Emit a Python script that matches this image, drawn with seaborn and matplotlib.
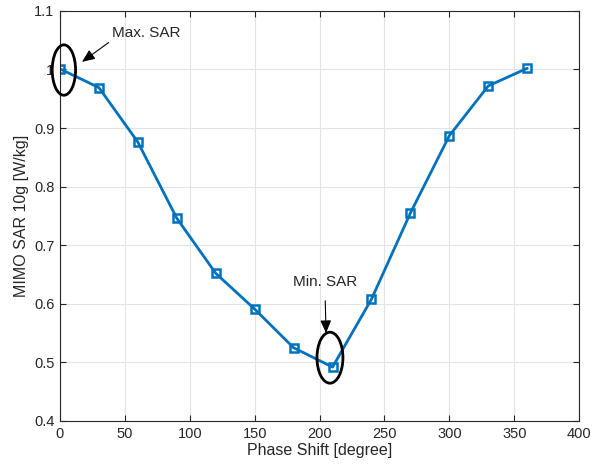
import matplotlib
matplotlib.use("Agg")
import matplotlib.pyplot as plt
from matplotlib.patches import Ellipse
import pandas as pd
import seaborn as sns

# phase shift between ports (degree) and resulting 10g MIMO SAR
phase_shift = [0, 30, 60, 90, 120, 150, 180, 210, 240, 270, 300, 330, 360]
sar_10g = [1.001, 0.969, 0.876, 0.746, 0.652, 0.591, 0.525, 0.492, 0.608,
           0.755, 0.887, 0.972, 1.002]

df = pd.DataFrame({"phase": phase_shift, "sar": sar_10g})

sns.set_theme(style="whitegrid")
plt.rcParams["font.family"] = ["Liberation Sans", "DejaVu Sans"]

fig = plt.figure(figsize=(5.94, 4.73), dpi=100)
ax = fig.add_axes([0.101, 0.110, 0.874, 0.867])

sns.lineplot(data=df, x="phase", y="sar", ax=ax, color="#0072BD", linewidth=2,
             marker="s", markersize=6, markerfacecolor="none",
             markeredgecolor="#0072BD", markeredgewidth=1.8)

ax.set_xlim(0, 400)
ax.set_ylim(0.4, 1.1)
ax.set_xticks(range(0, 401, 50))
ax.set_yticks([0.4, 0.5, 0.6, 0.7, 0.8, 0.9, 1.0, 1.1])
ax.set_yticklabels(["0.4", "0.5", "0.6", "0.7", "0.8", "0.9", "1", "1.1"])
ax.set_xlabel("Phase Shift [degree]", fontsize=11.5, color="#262626", labelpad=2)
ax.set_ylabel("MIMO SAR 10g [W/kg]", fontsize=11.5, color="#262626", labelpad=4)

ax.set_facecolor("white")
ax.grid(True, color="#e3e3e3", linewidth=0.8)
for s in ax.spines.values():
    s.set_visible(True)
    s.set_color("#262626")
    s.set_linewidth(0.8)
ax.tick_params(direction="in", length=4, width=0.8, colors="#262626",
               labelsize=10.5, top=True, right=True, bottom=True, left=True,
               labelcolor="#262626", pad=4)

# highlight ellipses
ax.add_patch(Ellipse((3, 0.999), 18, 0.086, fill=False, edgecolor="black",
                     linewidth=2, clip_on=False, zorder=5))
ax.add_patch(Ellipse((208, 0.508), 20, 0.087, fill=False, edgecolor="black",
                     linewidth=2, zorder=5))

ax.annotate("Max. SAR", xy=(17, 1.013), xytext=(40, 1.062), fontsize=11,
            ha="left", va="center",
            arrowprops=dict(arrowstyle="-|>,head_width=0.3,head_length=0.7",
                            color="black", linewidth=0.8, shrinkA=0, shrinkB=0,
                            relpos=(0.0, 0.0)))
ax.annotate("Min. SAR", xy=(205, 0.550), xytext=(204, 0.637), fontsize=11,
            ha="center", va="center",
            arrowprops=dict(arrowstyle="-|>,head_width=0.3,head_length=0.7",
                            color="black", linewidth=0.8, shrinkA=6, shrinkB=0))

fig.savefig("out.png", dpi=100)
